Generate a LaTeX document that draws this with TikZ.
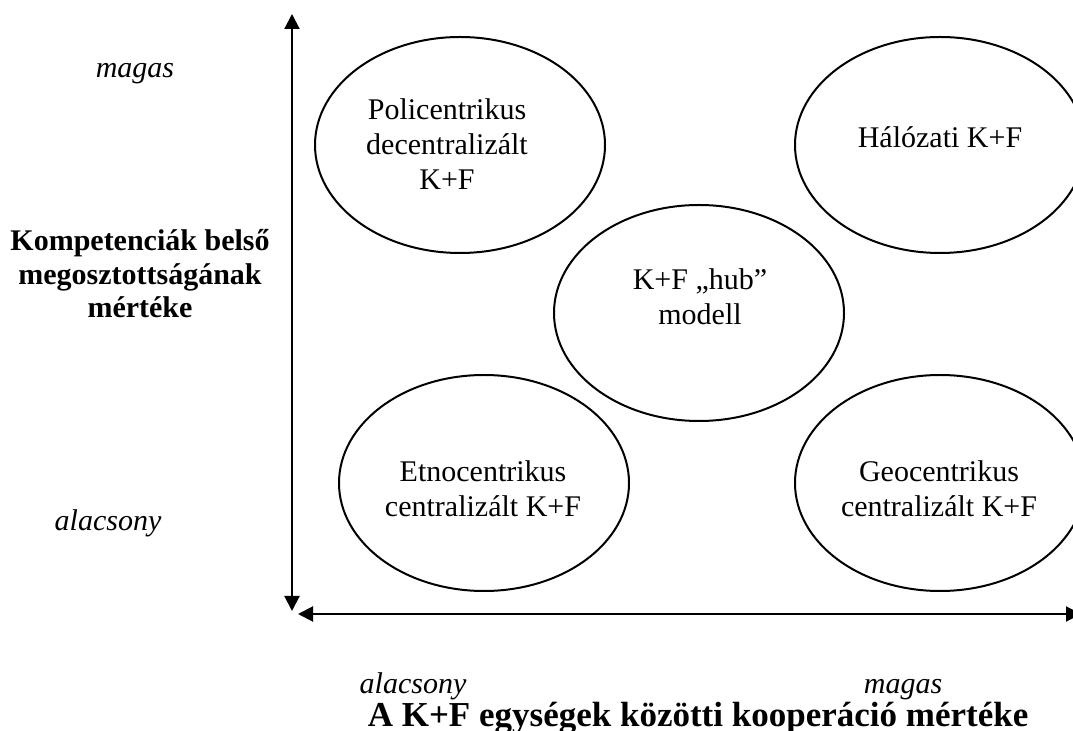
\documentclass[tikz,border=0pt]{standalone}
\usepackage{fontspec}
\setmainfont{Liberation Serif}
\usetikzlibrary{shapes.geometric,arrows.meta}
\begin{document}
\begin{tikzpicture}[x=0.4pt,y=-0.4pt,
  blob/.style={draw=black,line width=0.8pt,ellipse,minimum width=116pt,minimum height=86.4pt,inner sep=0pt},
  intext/.style={align=center,anchor=base,inner sep=0pt,font=\fontsize{12pt}{14pt}\selectfont},
  axlab/.style={anchor=base,inner sep=0pt,font=\fontsize{12pt}{14pt}\selectfont\itshape},
  axtitle/.style={anchor=base,align=center,inner sep=0pt,font=\fontsize{12pt}{13.5pt}\selectfont\bfseries},
  axarrow/.style={line width=0.8pt,{Triangle[length=6pt,width=6pt]}-{Triangle[length=6pt,width=6pt]}}
]
\useasboundingbox (0,0) rectangle (1073,731);
\clip (0,0) rectangle (1073,731);

% ellipses
\node[blob] (poli) at (460,145) {};
\node[blob] (halo) at (940,145) {};
\node[blob] (hub)  at (699,313) {};
\node[blob] (etno) at (484,483) {};
\node[blob] (geo)  at (940,483) {};

% ellipse texts (anchor = baseline of the last line)
\node[intext] (tpoli) at (447,190) {Policentrikus\\decentralizált\\K+F};
\node[intext] (thalo) at (940,148) {Hálózati K+F};
\node[intext] (thub)  at (700,325) {K+F „hub”\\modell};
\node[intext] (tetno) at (483,517) {Etnocentrikus\\centralizált K+F};
\node[intext] (tgeo)  at (939,517) {Geocentrikus\\centralizált K+F};

% axes
\coordinate (vtop) at (292,14);
\coordinate (vbot) at (292,611);
\coordinate (hleft) at (298,614);
\coordinate (hright) at (1081,614);
\draw[axarrow] (vbot) -- (vtop);
\draw[axarrow] (hleft) -- (hright);

% axis labels
\node[axlab] (ymagas) at (135,78) {magas};
\node[axlab] (yalac) at (108,531) {alacsony};
\node[axtitle] (ytitle) at (140,318) {Kompetenciák belső\\megosztottságának\\mértéke};
\node[axlab] (xalac) at (413,693) {alacsony};
\node[axlab] (xmagas) at (903,693) {magas};
\node[anchor=base,inner sep=0pt,font=\fontsize{14pt}{16pt}\selectfont\bfseries] (xtitle) at (698,726) {A K+F egységek közötti kooperáció mértéke};
\end{tikzpicture}
\end{document}
